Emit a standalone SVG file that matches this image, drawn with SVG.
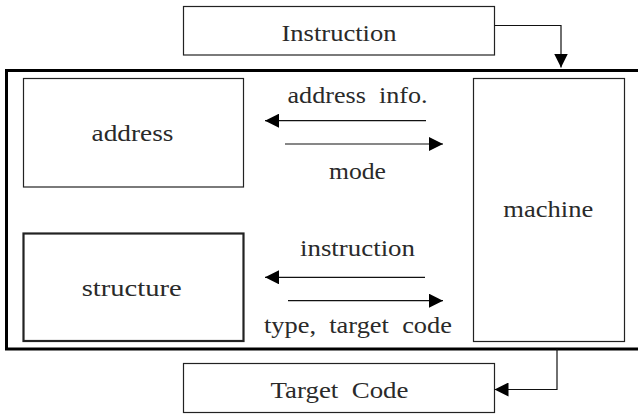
<svg xmlns="http://www.w3.org/2000/svg" width="638" height="414" viewBox="0 0 638 414">
  <defs>
    <marker id="ah" viewBox="0 0 14 14" refX="14" refY="7" markerWidth="14" markerHeight="14" markerUnits="userSpaceOnUse" orient="auto">
      <path d="M0,0 L14,7 L0,14 z" fill="#000"/>
    </marker>
  </defs>
  <style>
    .box { fill: #fff; stroke: #222; stroke-width: 1.2; }
    .thick { stroke-width: 2.2; }
    .frame { fill: none; stroke: #000; stroke-width: 3; }
    .lbl { font-family: "Liberation Serif", "DejaVu Serif", serif; font-size: 23px; fill: #2a2a2a; text-anchor: middle; white-space: pre; }
    .wire { fill: none; stroke: #111; stroke-width: 1.2; marker-end: url(#ah); }
  </style>
  <rect width="638" height="414" fill="#fff"/>

  <!-- enclosing frame (open to the right) -->
  <rect id="frame" class="frame" x="6.5" y="70.5" width="660" height="278.5"/>

  <g id="instruction">
    <rect class="box" x="183.5" y="6.5" width="311" height="48.5"/>
    <text class="lbl" x="339" y="40.5" textLength="115" lengthAdjust="spacingAndGlyphs">Instruction</text>
  </g>

  <g id="address">
    <rect class="box" x="23.5" y="78.5" width="220" height="108.5"/>
    <text class="lbl" x="132.5" y="141" textLength="82" lengthAdjust="spacingAndGlyphs">address</text>
  </g>

  <g id="structure">
    <rect class="box thick" x="23.5" y="233.5" width="220" height="107.5"/>
    <text class="lbl" x="131.7" y="296" textLength="100" lengthAdjust="spacingAndGlyphs">structure</text>
  </g>

  <g id="machine">
    <rect class="box" x="473.5" y="78.5" width="151" height="263"/>
    <text class="lbl" x="548.3" y="216.7" textLength="90" lengthAdjust="spacingAndGlyphs">machine</text>
  </g>

  <g id="target-code">
    <rect class="box" x="183.5" y="363.5" width="311" height="49"/>
    <text class="lbl" x="339.5" y="398.3" textLength="138" lengthAdjust="spacingAndGlyphs" xml:space="preserve">Target  Code</text>
  </g>

  <g id="connectors">
    <path class="wire" d="M494.5 25.5 H561 V67.5"/>
    <path class="wire" d="M557 349 V389.5 H494.5"/>
    <path class="wire" d="M426 120.7 H265"/>
    <path class="wire" d="M285 144 H443"/>
    <path class="wire" d="M425 277.3 H265"/>
    <path class="wire" d="M288 300.7 H443"/>
    <text class="lbl" x="357.5" y="103.3" textLength="140" lengthAdjust="spacingAndGlyphs" xml:space="preserve">address  info.</text>
    <text class="lbl" x="357.5" y="179.3" textLength="57" lengthAdjust="spacingAndGlyphs">mode</text>
    <text class="lbl" x="357.5" y="256" textLength="115" lengthAdjust="spacingAndGlyphs">instruction</text>
    <text class="lbl" x="358" y="333" textLength="188" lengthAdjust="spacingAndGlyphs" xml:space="preserve">type,  target  code</text>
  </g>
</svg>
